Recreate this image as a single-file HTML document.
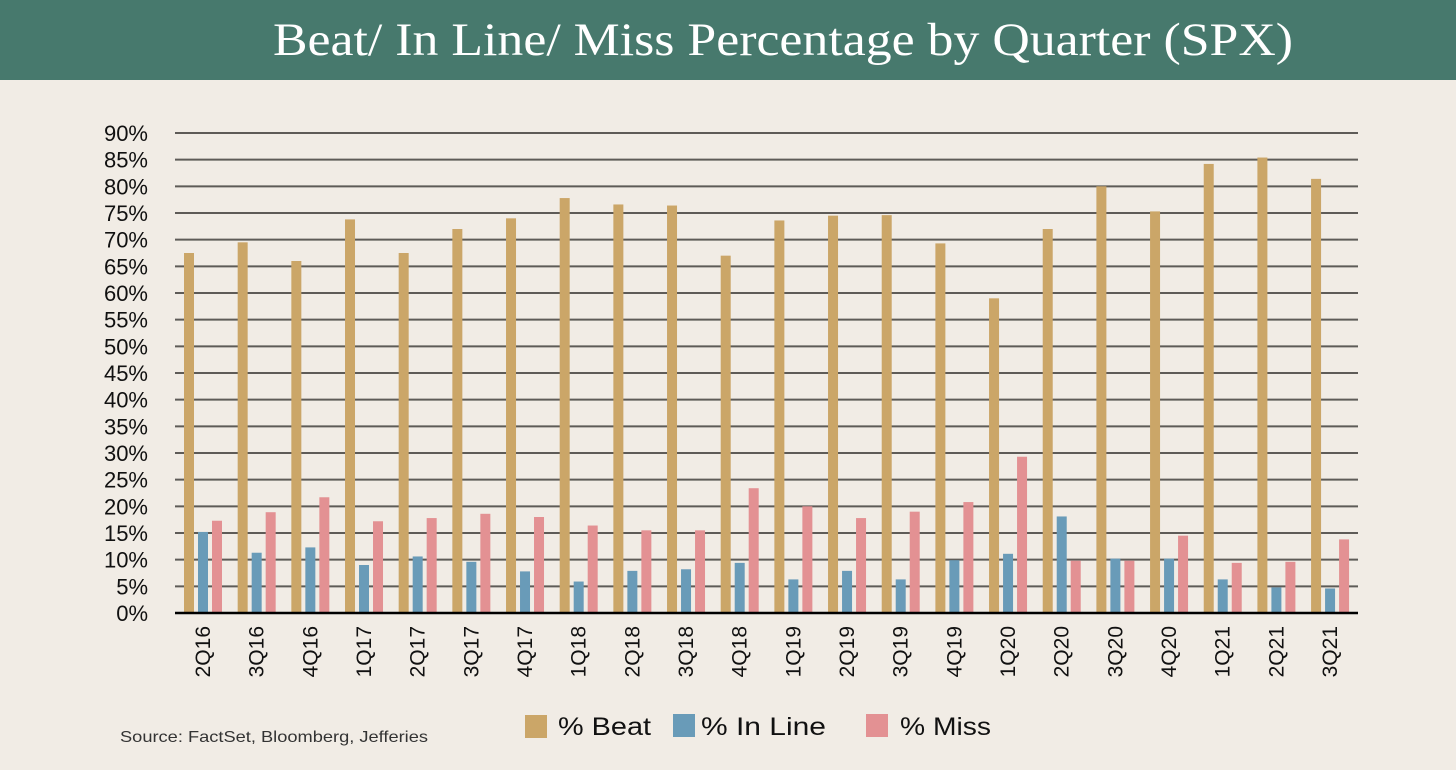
<!DOCTYPE html>
<html><head><meta charset="utf-8"><style>
html,body{margin:0;padding:0;background:#f1ece5;}
svg{display:block;}
</style></head><body>
<svg width="1456" height="770" xmlns="http://www.w3.org/2000/svg">
<rect width="1456" height="770" fill="#f1ece5"/>
<rect width="1456" height="80" fill="#47796d"/>
<text x="273" y="55" font-family="Liberation Serif, serif" font-size="47" fill="#fff" textLength="1020" lengthAdjust="spacingAndGlyphs">Beat/ In Line/ Miss Percentage by Quarter (SPX)</text>
<g id="grid" stroke="#5e5b57" stroke-width="2"></g>
<g id="bars"></g>
<line x1="175" y1="613" x2="1358" y2="613" stroke="#000" stroke-width="2.5"/>
<g id="ylab" font-family="Liberation Sans, DejaVu Sans, sans-serif" font-size="22" fill="#111" text-anchor="end"></g>
<g id="xlab" font-family="Liberation Sans, DejaVu Sans, sans-serif" font-size="21" fill="#111" text-anchor="end"></g>
<rect x="525" y="715" width="22" height="23" fill="#cba668"/>
<text x="558" y="735" font-family="Liberation Sans, DejaVu Sans, sans-serif" font-size="25" fill="#111" textLength="93" lengthAdjust="spacingAndGlyphs">% Beat</text>
<rect x="673" y="714" width="22" height="23" fill="#699bb8"/>
<text x="701" y="735" font-family="Liberation Sans, DejaVu Sans, sans-serif" font-size="25" fill="#111" textLength="125" lengthAdjust="spacingAndGlyphs">% In Line</text>
<rect x="866" y="714" width="22" height="23" fill="#e39193"/>
<text x="900" y="735" font-family="Liberation Sans, DejaVu Sans, sans-serif" font-size="25" fill="#111" textLength="91" lengthAdjust="spacingAndGlyphs">% Miss</text>
<text x="120" y="742" font-family="Liberation Sans, DejaVu Sans, sans-serif" font-size="16" fill="#333" textLength="308" lengthAdjust="spacingAndGlyphs">Source: FactSet, Bloomberg, Jefferies</text>
</svg>
<script>
const ns="http://www.w3.org/2000/svg";
function el(p,t,a,txt){const e=document.createElementNS(ns,t);for(const k in a)e.setAttribute(k,a[k]);if(txt)e.textContent=txt;document.getElementById(p).appendChild(e);}
const y0=613,u=480/90;
for(let v=5;v<=90;v+=5){const y=y0-v*u;el("grid","line",{x1:175,x2:1358,y1:y,y2:y});}
for(let v=0;v<=90;v+=5){el("ylab","text",{x:148,y:y0-v*u+8},v+"%");}
const q=["2Q16","3Q16","4Q16","1Q17","2Q17","3Q17","4Q17","1Q18","2Q18","3Q18","4Q18","1Q19","2Q19","3Q19","4Q19","1Q20","2Q20","3Q20","4Q20","1Q21","2Q21","3Q21"];
const b=[67.5,69.5,66,73.8,67.5,72,74,77.8,76.6,76.4,67,73.6,74.5,74.6,69.3,59,72,80,75.3,84.2,85.4,81.4];
const i=[15.2,11.3,12.3,9,10.6,9.6,7.8,5.9,7.9,8.2,9.4,6.3,7.9,6.3,9.9,11.1,18.1,10.2,10.2,6.3,4.8,4.6];
const m=[17.3,18.9,21.7,17.2,17.8,18.6,18,16.4,15.5,15.5,23.4,20,17.8,19,20.8,29.3,9.8,9.8,14.5,9.4,9.6,13.8];
const cols=["#cba668","#699bb8","#e39193"];
q.forEach((n,k)=>{const x=184+k*53.67;[b[k],i[k],m[k]].forEach((v,j)=>{el("bars","rect",{x:x+j*14,y:y0-v*u,width:10,height:v*u,fill:cols[j]});});
const cx=x+19;el("xlab","text",{x:0,y:0,transform:`translate(${cx+7},626) rotate(-90)`},n);});
</script>
</body></html>
